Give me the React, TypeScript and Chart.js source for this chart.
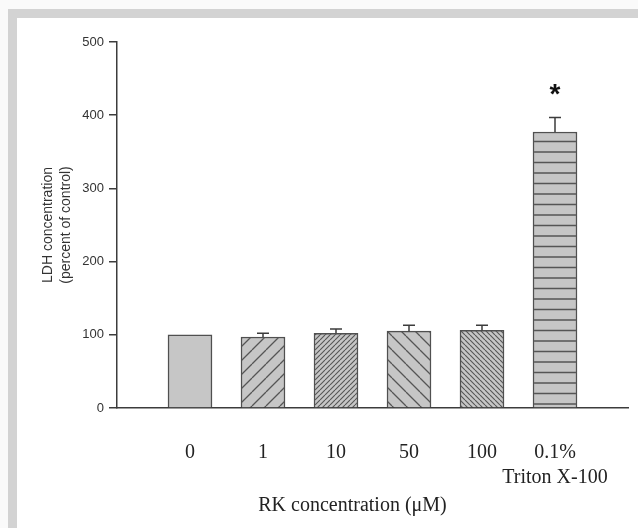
import React, { useEffect, useRef } from 'react';
import { Chart, registerables } from 'chart.js';

Chart.register(...registerables);

// ---- data ----
const categories: (string | string[])[] = ['0', '1', '10', '50', '100', ['0.1%', 'Triton X-100']];
const values = [100, 97, 102, 105, 106, 377];
const errors = [0, 5, 6, 8, 7, 20];
const markers = ['', '', '', '', '', '*'];
const hatches = ['none', 'fwdWide', 'fwdDense', 'backWide', 'backDense', 'horizontal'];
const yMin = 0;
const yMax = 500;
const yStep = 100;
const xTitle = 'RK concentration (\u03BCM)';
const yTitle = ['LDH concentration', '(percent of control)'];

const FILL = '#c6c6c6';
const HATCH = '#555555';
const INK = '#3c3c3c';
const SERIF = '"Liberation Serif", "Times New Roman", serif';
const SANS = '"Liberation Sans", Arial, sans-serif';

function makePattern(ctx: CanvasRenderingContext2D, kind: string): CanvasPattern | string {
  if (kind === 'none') return FILL;
  const c = document.createElement('canvas');
  let w = 10;
  let h = 10;
  if (kind === 'fwdWide' || kind === 'backWide') { w = 14; h = 14; }
  if (kind === 'fwdDense' || kind === 'backDense') { w = 5; h = 5; }
  if (kind === 'horizontal') { w = 10; h = 21; }
  c.width = w;
  c.height = h;
  const g = c.getContext('2d')!;
  g.fillStyle = FILL;
  g.fillRect(0, 0, w, h);
  g.strokeStyle = HATCH;
  g.lineWidth = kind.endsWith('Dense') ? 1.1 : 1.3;
  g.beginPath();
  if (kind === 'horizontal') {
    g.lineWidth = 1.6;
    g.moveTo(0, 5); g.lineTo(w, 5);
    g.moveTo(0, 15.5); g.lineTo(w, 15.5);
  } else if (kind.startsWith('fwd')) {
    for (let k = -1; k <= 1; k++) {
      g.moveTo(k * w, h);
      g.lineTo(k * w + w, 0);
    }
  } else {
    for (let k = -1; k <= 1; k++) {
      g.moveTo(k * w, 0);
      g.lineTo(k * w + w, h);
    }
  }
  g.stroke();
  return ctx.createPattern(c, 'repeat') as CanvasPattern;
}

const errorBarPlugin = {
  id: 'errorBars',
  afterDatasetsDraw(chart: any) {
    const ctx = chart.ctx as CanvasRenderingContext2D;
    const meta = chart.getDatasetMeta(0);
    const yScale = chart.scales.y;
    ctx.save();
    ctx.strokeStyle = INK;
    ctx.lineWidth = 1.5;
    values.forEach((v, i) => {
      const el = meta.data[i + 1];
      if (!el) return;
      const x = el.x;
      const e = errors[i];
      const yTop = yScale.getPixelForValue(v + e);
      if (e > 0) {
        ctx.beginPath();
        ctx.moveTo(x, yScale.getPixelForValue(v));
        ctx.lineTo(x, yTop);
        ctx.moveTo(x - 6, yTop);
        ctx.lineTo(x + 6, yTop);
        ctx.stroke();
      }
      if (markers[i]) {
        ctx.fillStyle = '#111';
        ctx.font = `bold 28px ${SANS}`;
        ctx.textAlign = 'center';
        ctx.textBaseline = 'alphabetic';
        ctx.fillText(markers[i], x, yTop - 14);
      }
    });
    ctx.restore();
  },
};

// x-axis title, set slightly left of the plot centre as in the original figure
const xTitlePlugin = {
  id: 'xTitle',
  afterDraw(chart: any) {
    const ctx = chart.ctx as CanvasRenderingContext2D;
    const area = chart.chartArea;
    const xs = chart.scales.x;
    ctx.save();
    ctx.fillStyle = '#222';
    ctx.font = `20px ${SERIF}`;
    ctx.textAlign = 'center';
    ctx.textBaseline = 'middle';
    ctx.fillText(xTitle, (area.left + area.right) / 2 - 20, xs.bottom - 22);
    ctx.restore();
  },
};

export default function App() {
  const ref = useRef<HTMLCanvasElement>(null);

  useEffect(() => {
    const canvas = ref.current!;
    const ctx = canvas.getContext('2d')!;
    const labels = ['', ...categories, ''];
    const data = [null, ...values, null];
    const bg = ['rgba(0,0,0,0)', ...hatches.map((h) => makePattern(ctx, h)), 'rgba(0,0,0,0)'];

    const chart = new Chart(canvas, {
      type: 'bar',
      data: {
        labels,
        datasets: [
          {
            data,
            backgroundColor: bg as any,
            borderColor: '#505050',
            borderWidth: 1.5,
            barThickness: 44,
          },
        ],
      },
      options: {
        responsive: false,
        animation: false,
        events: [],
        layout: { padding: { left: 0, right: 10, top: 42, bottom: 0 } },
        plugins: { legend: { display: false }, tooltip: { enabled: false } },
        scales: {
          x: {
            type: 'category',
            offset: false,
            grid: { display: true, drawOnChartArea: false, drawTicks: true, tickLength: 29, color: 'rgba(0,0,0,0)' },
            border: { display: true, color: INK, width: 1.5 },
            ticks: {
              autoSkip: false,
              maxRotation: 0,
              minRotation: 0,
              padding: 3,
              color: '#222',
              font: { family: SERIF, size: 20, lineHeight: 1.25 },
            },
            afterFit(scale: any) {
              scale.height = 120;
            },
          },
          y: {
            min: yMin,
            max: yMax,
            grid: { drawOnChartArea: false, drawTicks: true, tickLength: 8, color: INK, lineWidth: 1.5 },
            border: { display: true, color: INK, width: 1.5 },
            ticks: {
              stepSize: yStep,
              padding: 5,
              color: '#333',
              font: { family: SANS, size: 13 },
            },
            title: {
              display: true,
              text: yTitle,
              color: '#333',
              padding: { top: 39, bottom: 0 },
              font: { family: SANS, size: 14, lineHeight: 1.3 },
            },
            afterFit(scale: any) {
              scale.width = 117;
            },
          },
        },
      },
      plugins: [errorBarPlugin, xTitlePlugin],
    });
    return () => chart.destroy();
  }, []);

  return (
    <div style={{ position: 'fixed', left: 0, top: 0, width: 638, height: 528, background: '#fafafa', overflow: 'hidden' }}>
      <div style={{ position: 'absolute', left: 8, top: 9, right: 0, bottom: 0, background: '#d3d3d3' }} />
      <div style={{ position: 'absolute', left: 17, top: 18, right: 0, bottom: 0, background: '#ffffff' }} />
      <canvas ref={ref} width={638} height={528} style={{ position: 'absolute', left: 0, top: 0, width: 638, height: 528 }} />
    </div>
  );
}
